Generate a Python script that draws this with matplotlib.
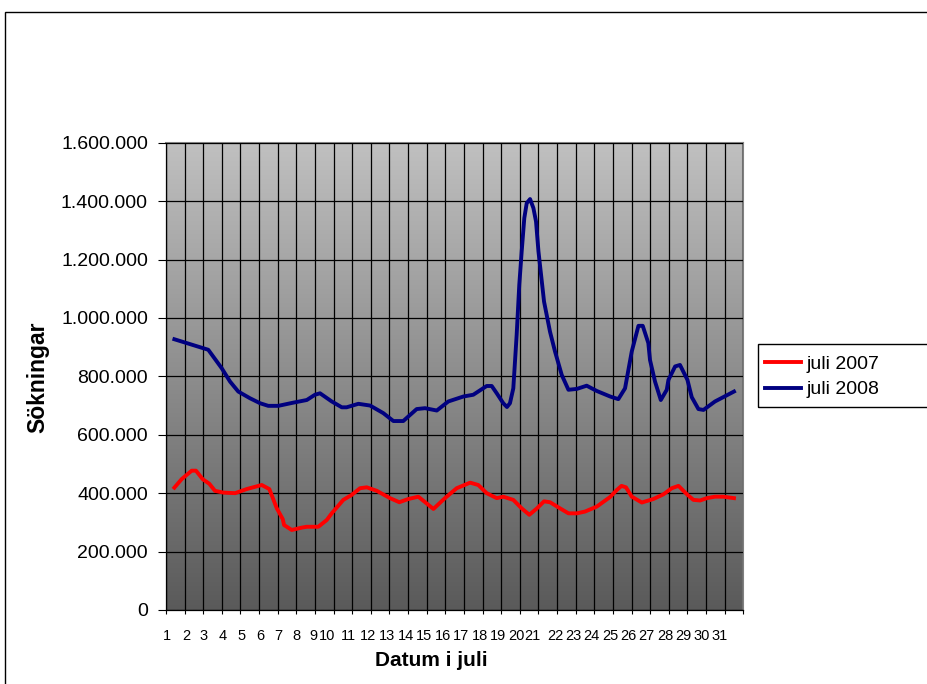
import matplotlib
matplotlib.use("Agg")
import matplotlib.pyplot as plt
import numpy as np
from matplotlib.colors import LinearSegmentedColormap
from matplotlib.lines import Line2D
from matplotlib.patches import Rectangle
from matplotlib.ticker import FuncFormatter

plt.rcParams["font.family"] = ["Liberation Sans", "DejaVu Sans"]

# position along the axis in days (0 = left edge, 31 = right edge)
x_2008 = [0.45, 2.27, 2.99, 3.44, 3.88, 4.51, 5.05, 5.49, 6.03, 6.84, 7.56, 8.00,
          8.27, 8.90, 9.44, 9.70, 10.33, 10.96, 11.67, 12.21, 12.74, 13.46, 13.91,
          14.54, 15.16, 15.97, 16.50, 17.22, 17.49, 17.76, 18.11, 18.31, 18.47,
          18.65, 18.83, 18.97, 19.10, 19.24, 19.37, 19.55, 19.73, 19.87, 20.00,
          20.18, 20.30, 20.62, 20.89, 21.25, 21.61, 22.06, 22.59, 23.13, 23.85,
          24.29, 24.65, 25.01, 25.37, 25.60, 25.90, 25.99, 26.26, 26.57, 26.89,
          26.98, 27.34, 27.60, 28.00, 28.23, 28.59, 28.86, 29.48, 30.50]
juli_2008 = [927000, 891000, 828000, 782000, 748000, 725000, 708000, 699000, 699000,
             710000, 719000, 737000, 742000, 714000, 694000, 694000, 706000, 700000,
             674000, 647000, 647000, 688000, 691000, 683000, 714000, 731000, 737000,
             767000, 767000, 742000, 708000, 695000, 708000, 759000, 942000, 1113000,
             1228000, 1342000, 1393000, 1407000, 1376000, 1330000, 1228000, 1125000,
             1056000, 953000, 885000, 805000, 754000, 757000, 768000, 750000, 731000,
             722000, 759000, 885000, 973000, 973000, 914000, 856000, 782000, 719000,
             754000, 788000, 834000, 839000, 788000, 729000, 688000, 685000, 714000,
             748000]

x_2007 = [0.45, 0.84, 1.38, 1.61, 1.97, 2.33, 2.63, 3.08, 3.71, 4.33, 5.14, 5.55,
          5.95, 6.27, 6.34, 6.75, 7.29, 7.56, 8.18, 8.63, 8.90, 9.52, 9.97, 10.42,
          10.78, 11.32, 12.03, 12.53, 13.01, 13.55, 14.36, 14.98, 15.61, 16.33,
          16.77, 17.22, 17.76, 18.11, 18.65, 19.10, 19.51, 19.92, 20.30, 20.62,
          21.16, 21.61, 22.06, 22.50, 23.13, 23.85, 24.21, 24.46, 24.70, 25.01,
          25.55, 26.17, 26.71, 27.16, 27.52, 27.96, 28.32, 28.68, 29.04, 29.48,
          29.93, 30.50]
juli_2007 = [419000, 448000, 477000, 477000, 448000, 432000, 408000, 402000, 400000,
             414000, 428000, 414000, 348000, 311000, 291000, 274000, 282000, 285000,
             285000, 308000, 331000, 377000, 394000, 417000, 420000, 408000, 383000,
             369000, 380000, 388000, 346000, 383000, 417000, 436000, 428000, 400000,
             383000, 388000, 377000, 348000, 326000, 348000, 372000, 369000, 348000,
             331000, 331000, 337000, 354000, 387000, 411000, 425000, 420000, 388000,
             368000, 380000, 396000, 417000, 425000, 397000, 377000, 375000, 383000,
             388000, 388000, 383000]

day_labels = [str(d) for d in range(1, 32)]
day_label_pos = [0.04, 1.07, 2.04, 3.05, 4.07, 5.05, 6.03, 7.02, 7.90, 8.63, 9.79,
                 10.87, 11.89, 12.89, 13.86, 14.86, 15.83, 16.87, 17.85, 18.83, 19.69,
                 20.89, 21.88, 22.86, 23.85, 24.83, 25.82, 26.84, 27.78, 28.77, 29.72]

W, H = 927, 684
fig = plt.figure(figsize=(W / 100, H / 100), dpi=100)
ax = fig.add_axes([166 / W, 1 - 610 / H, (743.3 - 166) / W, (610 - 142.7) / H])

# outer chart border (runs off the right and bottom of the picture)
fig.patches.append(Rectangle((5 / W, -0.1), 1.2, 1 - 12 / H + 0.1, transform=fig.transFigure,
                             fill=False, edgecolor="black", linewidth=1))

# gradient plot area
cmap = LinearSegmentedColormap.from_list("grad", ["#5a5a5a", "#c0c0c0"])
grad = np.linspace(0, 1, 256).reshape(-1, 1)
ax.imshow(grad, extent=[0, 31, 0, 1600000], origin="lower", aspect="auto", cmap=cmap, zorder=0)

ax.set_xlim(0, 31)
ax.set_ylim(0, 1600000)

ax.set_yticks(np.arange(0, 1600001, 200000))
ax.yaxis.set_major_formatter(FuncFormatter(lambda v, p: f"{v:,.0f}".replace(",", ".")))
ax.set_xticks(np.arange(0, 32))
ax.set_xticklabels([])
ax.set_xticks(day_label_pos, minor=True)
ax.set_xticklabels(day_labels, minor=True)

ax.grid(True, which="major", color="black", linewidth=0.9, zorder=1)
ax.set_axisbelow(False)
ax.tick_params(axis="y", direction="out", length=6, width=0.8, pad=7, labelsize=14)
ax.tick_params(axis="x", which="major", direction="out", length=3, width=0.8)
ax.tick_params(axis="x", which="minor", length=0, pad=14, labelsize=10.5)

for s in ["top", "right"]:
    ax.spines[s].set_color("#808080")
    ax.spines[s].set_linewidth(1.5)
for s in ["left", "bottom"]:
    ax.spines[s].set_color("black")
    ax.spines[s].set_linewidth(0.9)

ax.plot(x_2007, juli_2007, color="#ff0000", linewidth=2.8, zorder=3, solid_joinstyle="round")
ax.plot(x_2008, juli_2008, color="#000080", linewidth=2.8, zorder=3, solid_joinstyle="round")

fig.text(38 / W, 1 - 377 / H, "Sökningar", rotation=90, ha="center", va="center",
         fontsize=16.5, fontweight="bold")
fig.text(431 / W, 1 - 661 / H, "Datum i juli", ha="center", va="center",
         fontsize=15, fontweight="bold")

# legend box (also runs off the right edge)
fig.patches.append(Rectangle((758 / W, 1 - 407.3 / H), 0.5, (407.3 - 344) / H,
                             transform=fig.transFigure, fill=False, edgecolor="black",
                             linewidth=1))
handles = [Line2D([], [], color="#ff0000", linewidth=2.8),
           Line2D([], [], color="#000080", linewidth=2.8)]
fig.legend(handles, ["juli 2007", "juli 2008"], loc="center left",
           bbox_to_anchor=(765 / W, 1 - 377 / H), frameon=False, fontsize=14,
           borderpad=0, borderaxespad=0, handlelength=1.85, handletextpad=0.3,
           labelspacing=0.4)

fig.savefig("out.png", dpi=100)
